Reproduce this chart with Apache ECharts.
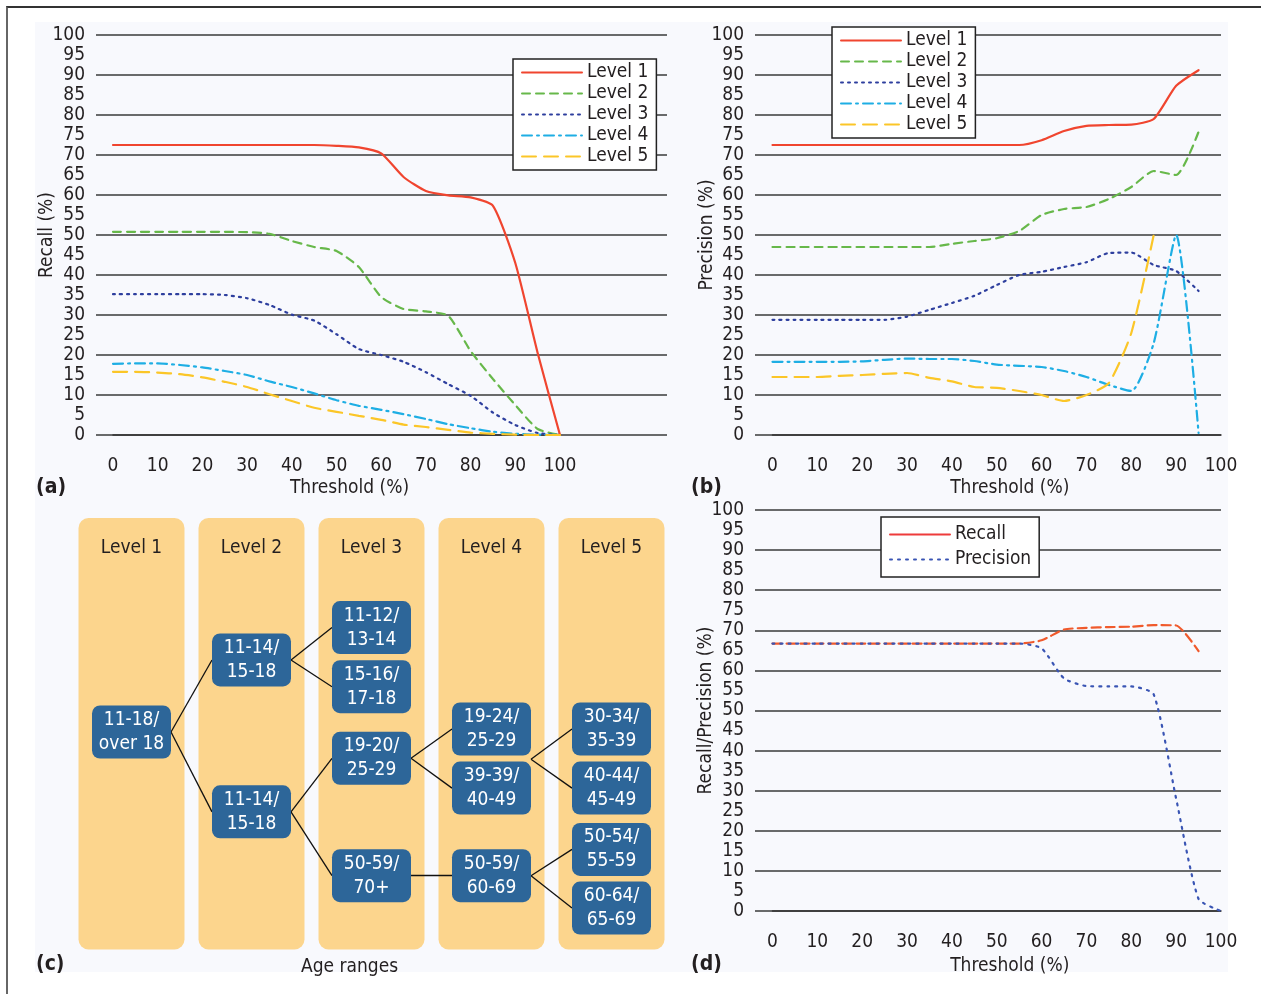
<!DOCTYPE html>
<html>
<head>
<meta charset="utf-8">
<script src="https://cdn.jsdelivr.net/npm/echarts@6/dist/echarts.min.js"></script>
<style>
  html, body { margin: 0; padding: 0; background: #fff; }
  #frame { position: absolute; left: 6px; top: 6px; width: 1255px; height: 988px;
           border-top: 2px solid #333; border-left: 2px solid #666; }
  #chart { position: absolute; left: 0; top: 0; width: 1261px; height: 994px; }
</style>
</head>
<body>
<div id="frame"></div>
<div id="chart"></div>
<script>
const FONT = "'Liberation Sans Narrow', 'DejaVu Sans Condensed', sans-serif";
const INK = "#231f20";

// thresholds (%) shared by panels a, b, d
const thresholds = [0, 5, 10, 15, 20, 25, 30, 35, 40, 45, 50, 55, 60, 65, 70, 75, 80, 85, 90, 95, 100];
const levelNames = ["Level 1", "Level 2", "Level 3", "Level 4", "Level 5"];

// (a) recall per level
const recallL1 = [72.5, 72.5, 72.5, 72.5, 72.5, 72.5, 72.5, 72.5, 72.5, 72.5, 72.3, 71.9, 70.4, 64.5, 61, 59.9, 59.4, 57.3, 43, 20.5, 0];
const recallL2 = [50.8, 50.8, 50.8, 50.8, 50.8, 50.8, 50.7, 50.3, 48.5, 47, 46, 42, 34.5, 31.5, 30.9, 29.8, 21, 14, 7.5, 1.5, 0];
const recallL3 = [35.2, 35.2, 35.2, 35.2, 35.2, 35, 34.2, 32.5, 30.1, 28.6, 25.2, 21.5, 20, 18.3, 15.7, 12.7, 9.8, 5.6, 2.5, 0.5, 0];
const recallL4 = [17.8, 17.9, 17.9, 17.5, 16.9, 16, 15, 13.4, 12, 10.4, 8.7, 7.3, 6.3, 5.2, 4, 2.7, 1.7, 0.8, 0.3, 0.1, 0];
const recallL5 = [15.8, 15.8, 15.6, 15.2, 14.4, 13.3, 12, 10.2, 8.5, 6.8, 5.8, 4.8, 3.8, 2.6, 2, 1.3, 0.6, 0.3, 0.1, 0, 0];

// (b) precision per level
const precL1 = [72.5, 72.5, 72.5, 72.5, 72.5, 72.5, 72.5, 72.5, 72.5, 72.5, 72.5, 72.5, 73.7, 76, 77.3, 77.5, 77.6, 79, 87.3, 91.2];
const precL2 = [47, 47, 47, 47, 47, 47, 47, 47, 47.8, 48.5, 49.2, 51, 55, 56.5, 57, 59, 62, 66, 65, 75.8];
const precL3 = [28.8, 28.8, 28.8, 28.8, 28.8, 28.8, 29.6, 31.3, 33, 34.8, 37.5, 40, 40.8, 42, 43.2, 45.5, 45.6, 42.5, 41, 36];
const precL4 = [18.3, 18.3, 18.3, 18.3, 18.4, 18.8, 19.1, 19, 19, 18.5, 17.6, 17.3, 17, 16, 14.5, 12.5, 11, 23, 50, 0.5];
const precL5 = [14.5, 14.5, 14.5, 14.8, 15, 15.3, 15.5, 14.3, 13.4, 12, 11.8, 11, 10, 8.5, 10, 13, 25.5, 50];

// (d) overall recall / precision
const overallRecall = [66.7, 66.7, 66.7, 66.7, 66.7, 66.7, 66.7, 66.7, 66.7, 66.7, 66.7, 66.7, 67.5, 70.2, 70.6, 70.8, 70.9, 71.3, 71.2, 64.8];
const overallPrecision = [66.7, 66.7, 66.7, 66.7, 66.7, 66.7, 66.7, 66.7, 66.7, 66.7, 66.7, 66.7, 65.5, 58, 56.1, 56, 56, 54, 28, 3, 0];

// (c) age range tree
const nodeIds    = ["n1", "n2a", "n2b", "n3a", "n3b", "n3c", "n3d", "n4a", "n4b", "n4c", "n5a", "n5b", "n5c", "n5d"];
const nodeLevels = [0, 1, 1, 2, 2, 2, 2, 3, 3, 3, 4, 4, 4, 4];
const nodeRows   = [50.4, 67.1, 31.9, 74.6, 60.9, 44.3, 17.1, 51.1, 37.4, 17.1, 51.1, 37.4, 23.2, 9.6];
const nodeLabels = ["11-18/\nover 18", "11-14/\n15-18", "11-14/\n15-18", "11-12/\n13-14", "15-16/\n17-18",
                    "19-20/\n25-29", "50-59/\n70+", "19-24/\n25-29", "39-39/\n40-49", "50-59/\n60-69",
                    "30-34/\n35-39", "40-44/\n45-49", "50-54/\n55-59", "60-64/\n65-69"];
const junctions = { j4: [3, 44.1] };
const links = [["n1", "n2a"], ["n1", "n2b"], ["n2a", "n3a"], ["n2a", "n3b"], ["n2b", "n3c"], ["n2b", "n3d"],
               ["n3c", "n4a"], ["n3c", "n4b"], ["n3d", "n4c"], ["j4", "n5a"], ["j4", "n5b"], ["n4c", "n5c"], ["n4c", "n5d"]];

const levelColors = ["#f0452f", "#67b84a", "#2e3f9e", "#1eaee4", "#fbc628"];
const levelDash = ["solid", [8, 6], [2, 5], [10, 5, 2, 5], [14, 8]];

const chart = echarts.init(document.getElementById("chart"));

function lineSeries(name, values, color, dash, axis) {
  return {
    type: "line", name, xAxisIndex: axis, yAxisIndex: axis,
    symbol: "none", smooth: 0.2, z: 3,
    data: values.map((v, i) => [thresholds[i], v]),
    lineStyle: { color, width: 2.2, type: dash, cap: "round" },
    itemStyle: { color },
  };
}

function wideY(name, nameGap) {
  return {
    type: "value", min: 0, max: 100, interval: 5,
    axisLine: { show: false }, axisTick: { show: false },
    axisLabel: { fontSize: 19, margin: 11, color: INK, fontFamily: FONT },
    splitLine: { show: true, lineStyle: { color: ["#3a3a3a", "rgba(0,0,0,0)"], width: 1.5 } },
    name, nameLocation: "middle", nameGap, nameMoveOverlap: false,
    nameTextStyle: { fontSize: 19, color: INK, fontFamily: FONT },
  };
}
function narrowX(gap) {
  return {
    type: "value", min: 0, max: 100, interval: 10, offset: 15,
    axisLine: { show: true, lineStyle: { color: "#333", width: 1.5 } },
    axisTick: { show: false }, splitLine: { show: false },
    axisLabel: { fontSize: 19, margin: 7, color: INK, fontFamily: FONT },
    name: "Threshold (%)", nameLocation: "middle", nameGap: gap, nameMoveOverlap: false,
    nameTextStyle: { fontSize: 19, color: INK, fontFamily: FONT, padding: [0, 0, 0, 26] },
  };
}
const hiddenX = { type: "value", min: 0, max: 1, show: false };
const hiddenY = { type: "value", min: 0, max: 100, show: false };

const legendBase = {
  orient: "vertical", itemWidth: 60, itemHeight: 2, itemGap: 0,
  itemStyle: { opacity: 0 },
  backgroundColor: "#fff", borderColor: "#222", borderWidth: 1.5, borderRadius: 0,
  textStyle: { fontSize: 19, lineHeight: 21, color: INK, fontFamily: FONT },
  inactiveColor: "#ccc",
};

const HW = 39.5 / 120; // half box width in level units
function nodePos(id) {
  if (junctions[id]) return junctions[id];
  const i = nodeIds.indexOf(id);
  return [nodeLevels[i], nodeRows[i]];
}
const linkData = links.map(([s, t]) => {
  const a = nodePos(s), b = nodePos(t);
  return { coords: [[a[0] + HW, a[1]], [b[0] - HW, b[1]]] };
});

const boxPath = "path://M8,0H71A8,8,0,0,1,79,8V45A8,8,0,0,1,71,53H8A8,8,0,0,1,0,45V8A8,8,0,0,1,8,0Z";

const option = {
  animation: false,
  textStyle: { fontFamily: FONT, color: INK },
  graphic: [{ type: "rect", shape: { x: 35, y: 22, width: 1193, height: 950 },
              style: { fill: "#f8f9fd" }, z: -10, silent: true }],
  title: [
    { text: "(a)", left: 36, top: 477 },
    { text: "(b)", left: 691, top: 477 },
    { text: "(c)", left: 36, top: 954 },
    { text: "(d)", left: 691, top: 954 },
  ].map(t => Object.assign(t, { textStyle: { fontSize: 21, fontWeight: "bold", color: INK, fontFamily: FONT }, padding: 0 })),
  grid: [
    { left: 96, top: 35, width: 571, height: 400, containLabel: false },
    { left: 113, top: 35, width: 447, height: 400, containLabel: false },
    { left: 755, top: 35, width: 466, height: 400, containLabel: false },
    { left: 772.5, top: 35, width: 448.5, height: 400, containLabel: false },
    { left: 755, top: 510, width: 466, height: 401, containLabel: false },
    { left: 772.5, top: 510, width: 448.5, height: 401, containLabel: false },
    { left: 71.5, top: 518, width: 600, height: 431.5, containLabel: false },
  ],
  xAxis: [
    hiddenX, narrowX(29), hiddenX, narrowX(29), hiddenX, narrowX(31),
    {
      type: "value", min: -0.5, max: 4.5,
      axisLine: { show: false }, axisTick: { show: false }, axisLabel: { show: false }, splitLine: { show: false },
      name: "Age ranges", nameLocation: "middle", nameGap: 8, nameMoveOverlap: false,
      nameTextStyle: { fontSize: 19, color: INK, fontFamily: FONT, padding: [0, 44, 0, 0] },
    },
  ].map((a, i) => Object.assign({}, a, { gridIndex: i })),
  yAxis: [
    wideY("Recall (%)", 39), hiddenY,
    wideY("Precision (%)", 38), hiddenY,
    wideY("Recall/Precision (%)", 39), hiddenY,
    hiddenY,
  ].map((a, i) => Object.assign({}, a, { gridIndex: i })),
  legend: [
    Object.assign({}, legendBase, { left: 513, top: 59, padding: [3, 8, 3, 8], data: levelNames }),
    Object.assign({}, legendBase, { left: 832, top: 27, padding: [3, 8, 3, 8], data: levelNames }),
    Object.assign({}, legendBase, {
      left: 881, top: 517, padding: [5, 8, 5, 8],
      textStyle: Object.assign({}, legendBase.textStyle, { lineHeight: 25 }),
      data: [{ name: "Recall", lineStyle: { type: "solid", color: "#ee3b3b" } }, "Precision"],
    }),
  ],
  series: [
    ...[recallL1, recallL2, recallL3, recallL4, recallL5].map((v, i) =>
      lineSeries(levelNames[i], v, levelColors[i], levelDash[i], 1)),
    ...[precL1, precL2, precL3, precL4, precL5].map((v, i) =>
      lineSeries(levelNames[i], v, levelColors[i], levelDash[i], 3)),
    lineSeries("Recall", overallRecall, "#f05a2c", [9, 5], 5),
    lineSeries("Precision", overallPrecision, "#3a55b4", [2, 6], 5),
    {
      type: "bar", name: "levels", xAxisIndex: 6, yAxisIndex: 6, barWidth: 106, z: 1,
      data: levelNames.map((n, i) => [i, 100]),
      itemStyle: { color: "#fcd58d", borderRadius: 10 },
      label: { show: true, position: "insideTop", distance: 20, fontSize: 19, lineHeight: 20,
               color: INK, fontFamily: FONT, formatter: p => levelNames[p.dataIndex] },
      silent: true,
    },
    {
      type: "lines", coordinateSystem: "cartesian2d", xAxisIndex: 6, yAxisIndex: 6, z: 2,
      data: linkData, lineStyle: { color: "#111", width: 1.3, opacity: 1 }, silent: true,
    },
    {
      type: "scatter", xAxisIndex: 6, yAxisIndex: 6, z: 3,
      symbol: boxPath, symbolSize: [79, 53],
      data: nodeIds.map((id, i) => ({ name: nodeLabels[i], value: [nodeLevels[i], nodeRows[i]] })),
      itemStyle: { color: "#2d6699", opacity: 1 },
      label: { show: true, position: "inside", formatter: "{b}", color: "#fff",
               fontSize: 19, lineHeight: 24, fontFamily: FONT },
      silent: true,
    },
  ],
};

chart.setOption(option);
window.addEventListener("resize", () => chart.resize());
</script>
</body>
</html>
